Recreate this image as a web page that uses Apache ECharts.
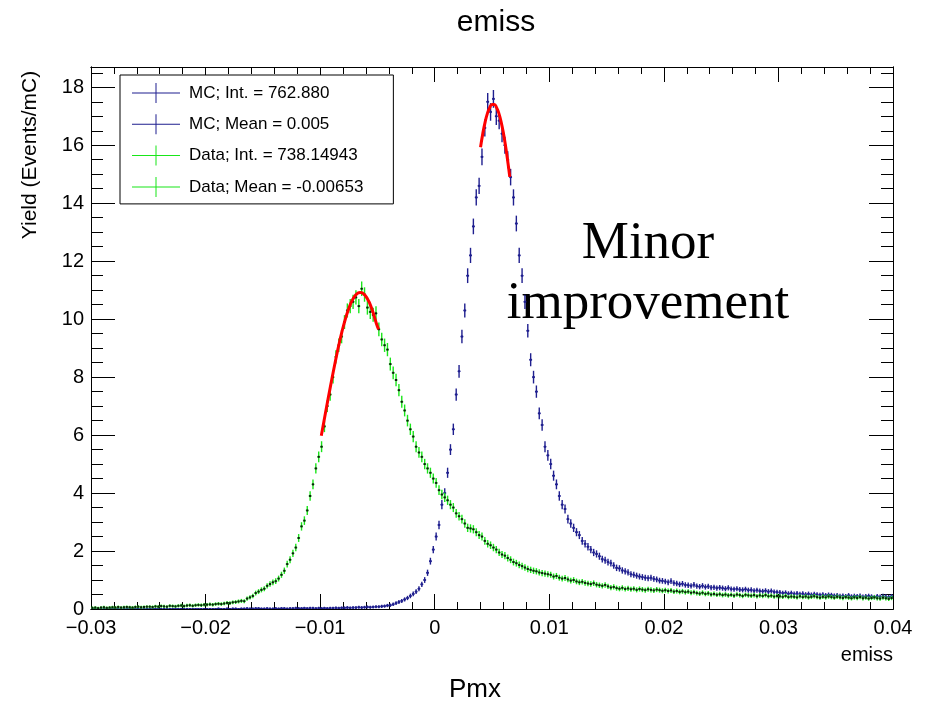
<!DOCTYPE html>
<html>
<head>
<meta charset="utf-8">
<script src="https://cdn.jsdelivr.net/npm/echarts@6/dist/echarts.min.js"></script>
<style>
  html, body { margin: 0; padding: 0; background: #fff; }
  #chart { width: 928px; height: 707px; }
</style>
</head>
<body>
<div id="chart"></div>
<script>
// histogram: 280 bins of 0.00025 between -0.03 and 0.04
const xMin = -0.03;
const xMax = 0.04;
const binWidth = 0.00025;

// MC yield per bin (Events/mC)
const mcYield = [
  0,0,0,0,0,0,0,0,0,0,0,0,0,0,0,0,0,0,0,0,
  0,0,0,0,0,0,0,0,0,0,0,0,0,0,0,0,0,0,0,0,
  0,0,0,0,0.01,0,0,0.01,0,0.01,0.01,0,0.01,0.01,0.02,0.01,0.01,0.02,0.02,0.01,
  0.01,0.02,0.01,0.01,0.02,0.01,0.02,0.02,0.01,0.02,0.02,0.03,0.02,0.02,0.03,0.02,0.03,0.03,0.02,0.03,
  0.02,0.03,0.02,0.03,0.03,0.04,0.03,0.04,0.04,0.05,0.04,0.05,0.05,0.06,0.05,0.06,0.07,0.06,0.07,0.08,
  0.08,0.09,0.10,0.12,0.13,0.16,0.20,0.24,0.28,0.33,0.38,0.45,0.52,0.60,0.70,0.85,1.00,1.25,1.65,2.05,
  2.50,2.90,3.60,4.00,4.70,5.50,6.20,7.40,8.20,9.40,10.30,11.50,12.20,13.20,14.20,14.60,15.60,16.60,17.50,17.15,
  17.60,17.00,16.85,16.40,16.00,15.50,14.90,14.20,13.30,12.20,11.50,10.60,9.60,8.60,8.00,7.50,6.75,6.35,5.60,5.30,
  5.00,4.60,4.30,3.90,3.60,3.45,3.10,2.95,2.80,2.65,2.55,2.35,2.25,2.15,2.05,1.95,1.90,1.82,1.72,1.68,
  1.62,1.58,1.50,1.42,1.40,1.33,1.30,1.26,1.20,1.18,1.15,1.12,1.10,1.08,1.06,1.08,1.04,1.02,0.98,0.97,
  0.95,0.92,0.96,0.90,0.88,0.85,0.87,0.83,0.82,0.80,0.84,0.79,0.77,0.80,0.76,0.78,0.74,0.75,0.72,0.74,
  0.72,0.70,0.73,0.69,0.68,0.70,0.67,0.66,0.68,0.65,0.66,0.63,0.65,0.62,0.61,0.63,0.60,0.62,0.59,0.58,
  0.57,0.55,0.56,0.53,0.55,0.52,0.54,0.51,0.53,0.50,0.52,0.49,0.51,0.50,0.48,0.50,0.47,0.49,0.48,0.46,
  0.47,0.45,0.46,0.44,0.47,0.43,0.45,0.44,0.46,0.42,0.44,0.45,0.43,0.41,0.44,0.42,0.45,0.43,0.41,0.44
];

// Data yield per bin (Events/mC)
const dataYield = [
  0.04,0.05,0.03,0.05,0.06,0.04,0.05,0.06,0.05,0.07,0.05,0.06,0.07,0.06,0.05,0.07,0.08,0.06,0.07,0.08,
  0.08,0.07,0.09,0.08,0.10,0.09,0.08,0.11,0.10,0.09,0.11,0.12,0.10,0.12,0.13,0.11,0.13,0.14,0.13,0.15,
  0.15,0.16,0.15,0.17,0.18,0.17,0.19,0.21,0.20,0.23,0.24,0.26,0.28,0.27,0.36,0.40,0.45,0.55,0.60,0.66,
  0.70,0.80,0.86,0.92,0.96,1.05,1.18,1.32,1.55,1.70,1.92,2.12,2.45,2.85,3.05,3.40,3.90,4.30,4.85,5.25,
  5.60,6.30,7.00,7.40,8.00,8.70,9.10,9.40,9.90,10.30,10.45,10.60,10.75,10.45,11.05,10.85,10.40,10.25,10.15,10.20,
  9.65,9.30,9.10,8.95,8.45,8.15,7.90,7.55,7.15,6.85,6.50,6.20,5.95,5.60,5.40,5.25,5.00,4.85,4.70,4.50,
  4.35,4.10,3.95,3.85,3.75,3.60,3.50,3.30,3.20,3.10,2.95,2.80,2.78,2.75,2.65,2.55,2.50,2.35,2.25,2.20,
  2.12,2.05,1.95,1.88,1.84,1.76,1.70,1.62,1.58,1.52,1.48,1.43,1.38,1.35,1.32,1.30,1.26,1.24,1.22,1.20,
  1.18,1.12,1.14,1.08,1.05,1.07,1.02,0.98,1.00,0.95,0.92,0.94,0.90,0.88,0.86,0.89,0.84,0.82,0.80,0.83,
  0.78,0.74,0.76,0.72,0.70,0.73,0.69,0.71,0.68,0.70,0.66,0.69,0.67,0.65,0.68,0.66,0.64,0.67,0.65,0.63,
  0.65,0.62,0.64,0.60,0.62,0.59,0.61,0.58,0.60,0.56,0.58,0.55,0.53,0.56,0.52,0.54,0.50,0.52,0.49,0.51,
  0.48,0.50,0.47,0.49,0.46,0.50,0.48,0.45,0.49,0.47,0.46,0.48,0.44,0.47,0.45,0.48,0.44,0.46,0.43,0.45,
  0.44,0.42,0.45,0.41,0.43,0.42,0.40,0.44,0.41,0.43,0.40,0.42,0.44,0.41,0.39,0.42,0.40,0.43,0.41,0.39,
  0.42,0.40,0.38,0.41,0.39,0.37,0.40,0.38,0.41,0.37,0.39,0.36,0.38,0.40,0.37,0.36,0.39,0.37,0.35,0.38
];

// gaussian fit curves: [x, yield]
const mcFit = [
  [0.0040, 15.93], [0.0042, 16.41], [0.0044, 16.80], [0.0046, 17.10], [0.0048, 17.30],
  [0.0050, 17.41], [0.0052, 17.41], [0.0054, 17.30], [0.0056, 17.10], [0.0058, 16.80],
  [0.0060, 16.41], [0.0062, 15.93], [0.0064, 15.37], [0.00655, 14.91]
];
const dataFit = [
  [-0.0099, 5.98], [-0.0095, 6.84], [-0.0091, 7.68], [-0.0087, 8.49], [-0.0083, 9.23],
  [-0.0079, 9.86], [-0.0075, 10.37], [-0.0071, 10.72], [-0.0067, 10.90], [-0.0065, 10.92],
  [-0.0063, 10.90], [-0.0059, 10.72], [-0.0055, 10.37], [-0.0051, 9.86], [-0.0049, 9.65]
];

const xTicks = [-0.03, -0.02, -0.01, 0, 0.01, 0.02, 0.03, 0.04];
const yTicks = [0, 2, 4, 6, 8, 10, 12, 14, 16, 18];
const yMax = 18.7;

const legendNames = [
  'MC; Int. = 762.880',
  'MC; Mean = 0.005',
  'Data; Int. = 738.14943',
  'Data; Mean = -0.00653'
];

const mcColor = '#1f1f8f';
const dataColor = '#19e619';
const fitColor = '#ff0000';
const errScale = 0.065;
const font = 'Liberation Sans, Arial, Helvetica, sans-serif';

const xMinorTicks = [];
for (let k = 0; k <= 35; k++) xMinorTicks.push(Math.round((xMin + 0.002 * k) * 1e4) / 1e4);
const yMinorTicks = [];
for (let k = 0; k <= 37; k++) yMinorTicks.push(k * 0.5);

function toPoints(values) {
  return values.map((y, i) => [xMin + (i + 0.5) * binWidth, y, errScale * Math.sqrt(y)]);
}

function errorPoints(color, dotColor) {
  return function (params, api) {
    const x = api.value(0), y = api.value(1), e = api.value(2);
    const c = api.coord([x, y]);
    const hi = api.coord([x, y + e]);
    const lo = api.coord([x, Math.max(0, y - e)]);
    const hw = api.size([binWidth, 0])[0] / 2;
    return {
      type: 'group',
      children: [
        { type: 'line', shape: { x1: c[0], y1: hi[1] - 1, x2: c[0], y2: lo[1] + 1 }, style: { stroke: color, lineWidth: 1.4 } },
        { type: 'line', shape: { x1: c[0] - hw, y1: c[1], x2: c[0] + hw, y2: c[1] }, style: { stroke: color, lineWidth: 1.4 } },
        { type: 'rect', shape: { x: c[0] - 1, y: c[1] - 1, width: 2, height: 2 }, style: { fill: dotColor } }
      ]
    };
  };
}

function xAxis(position, ticks, len, labels) {
  return {
    type: 'value', min: xMin, max: xMax, position: position,
    axisLine: { show: true, onZero: false, lineStyle: { color: '#000', width: 1 } },
    axisTick: { show: true, inside: true, length: len, customValues: ticks, lineStyle: { color: '#000', width: 1 } },
    axisLabel: labels ? {
      customValues: xTicks, margin: 9, color: '#000', fontFamily: font, fontSize: 20,
      formatter: v => v === 0 ? '0' : (v < 0 ? '\u2212' : '') + Math.abs(v).toFixed(2)
    } : { show: false },
    splitLine: { show: false }
  };
}

function yAxis(position, ticks, len, labels) {
  return {
    type: 'value', min: 0, max: yMax, position: position,
    axisLine: { show: true, onZero: false, lineStyle: { color: '#000', width: 1 } },
    axisTick: { show: true, inside: true, length: len, customValues: ticks, lineStyle: { color: '#000', width: 1 } },
    axisLabel: labels ? {
      customValues: yTicks, margin: 7, color: '#000', fontFamily: font, fontSize: 20
    } : { show: false },
    splitLine: { show: false }
  };
}

const chart = echarts.init(document.getElementById('chart'));

chart.setOption({
  animation: false,
  backgroundColor: '#fff',
  title: [
    { text: 'emiss', left: 491, top: 3, textAlign: 'center', textStyle: { fontFamily: font, fontSize: 30, fontWeight: 'normal', color: '#000' } },
    { text: 'Pmx', left: 470, top: 672, textAlign: 'center', textStyle: { fontFamily: font, fontSize: 26, fontWeight: 'normal', color: '#000' } },
    { text: 'emiss', right: 30, top: 640, textStyle: { fontFamily: font, fontSize: 20, fontWeight: 'normal', color: '#000' } }
  ],
  graphic: [
    {
      type: 'text', x: 30, y: 155, rotation: Math.PI / 2,
      style: { text: 'Yield (Events/mC)', align: 'center', verticalAlign: 'middle', font: '21px ' + font, fill: '#000' }
    },
    {
      type: 'text', x: 648, y: 274,
      style: { text: 'Minor\nimprovement', align: 'center', verticalAlign: 'middle', font: '53px Liberation Serif, Times New Roman, serif', lineHeight: 60, fill: '#000' }
    }
  ],
  legend: {
    orient: 'vertical', left: 120, top: 75,
    data: legendNames,
    icon: 'path://M0,9.5H48V10.5H0Z M23.5,0H24.5V20H23.5Z',
    itemWidth: 48, itemHeight: 20, itemGap: 11.3,
    padding: [8, 30, 7, 12],
    borderColor: '#000', borderWidth: 1, backgroundColor: '#fff',
    selectedMode: false,
    textStyle: { fontFamily: font, fontSize: 17, color: '#000', padding: [0, 0, 0, 4] }
  },
  grid: { left: 91, right: 35, top: 67, bottom: 98, containLabel: false },
  xAxis: [
    xAxis('bottom', xTicks, 15, true),
    xAxis('bottom', xMinorTicks, 7, false),
    xAxis('top', xTicks, 15, false),
    xAxis('top', xMinorTicks, 7, false)
  ],
  yAxis: [
    yAxis('left', yTicks, 24, true),
    yAxis('left', yMinorTicks, 12, false),
    yAxis('right', yTicks, 24, false),
    yAxis('right', yMinorTicks, 12, false)
  ],
  series: [
    {
      name: legendNames[0], type: 'custom', clip: true,
      itemStyle: { color: mcColor },
      renderItem: errorPoints(mcColor, mcColor),
      encode: { x: 0, y: 1 },
      data: toPoints(mcYield)
    },
    { name: legendNames[1], type: 'custom', itemStyle: { color: mcColor }, renderItem: errorPoints(mcColor, mcColor), data: [] },
    {
      name: legendNames[2], type: 'custom', clip: true,
      itemStyle: { color: dataColor },
      renderItem: errorPoints(dataColor, '#111'),
      encode: { x: 0, y: 1 },
      data: toPoints(dataYield)
    },
    { name: legendNames[3], type: 'custom', itemStyle: { color: dataColor }, renderItem: errorPoints(dataColor, '#111'), data: [] },
    {
      name: 'MC fit', type: 'line', smooth: true, showSymbol: false, z: 5,
      lineStyle: { color: fitColor, width: 3 }, itemStyle: { color: fitColor },
      data: mcFit
    },
    {
      name: 'Data fit', type: 'line', smooth: true, showSymbol: false, z: 5,
      lineStyle: { color: fitColor, width: 3 }, itemStyle: { color: fitColor },
      data: dataFit
    }
  ]
});
</script>
</body>
</html>
